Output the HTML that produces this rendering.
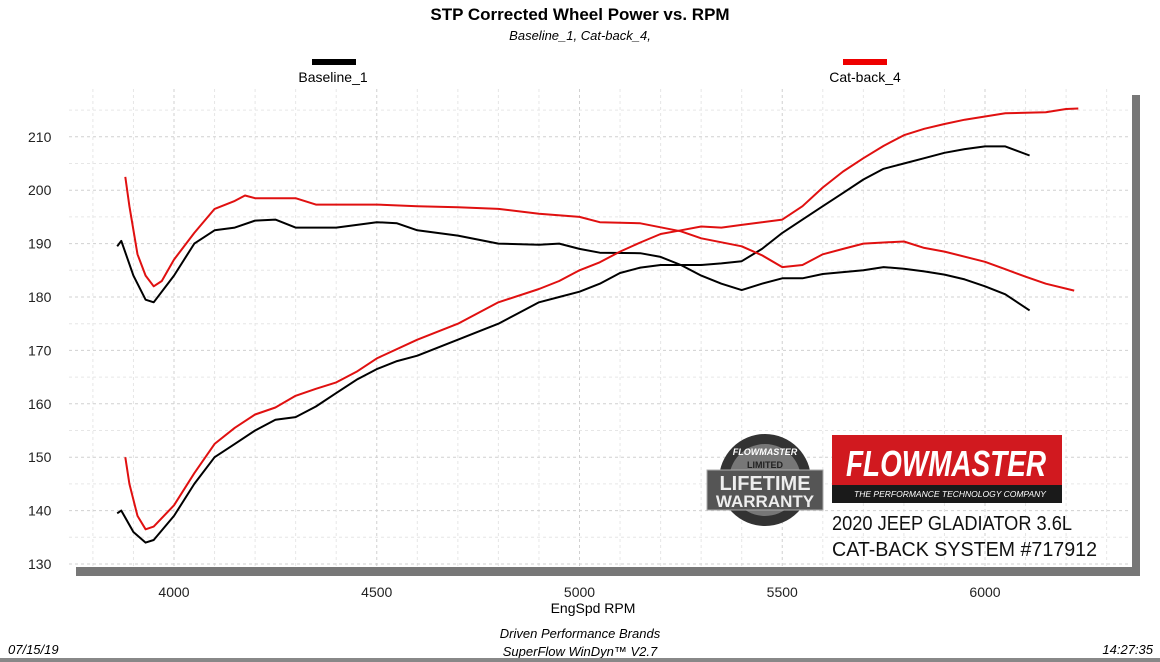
<!DOCTYPE html>
<html><head><meta charset="utf-8"><style>
body{margin:0;width:1160px;height:662px;background:#fff;overflow:hidden;font-family:"Liberation Sans",sans-serif}
svg{position:absolute;left:0;top:0}
</style></head><body>
<svg width="1160" height="662" viewBox="0 0 1160 662" id="s">
<text x="580" y="20" text-anchor="middle" font-size="17" font-weight="bold">STP Corrected Wheel Power vs. RPM</text>
<text x="580" y="40" text-anchor="middle" font-size="13" font-style="italic">Baseline_1, Cat-back_4,</text>
<rect x="312" y="59" width="44" height="6" fill="#000"/>
<text x="333" y="82" text-anchor="middle" font-size="14">Baseline_1</text>
<rect x="843" y="59" width="44" height="6" fill="#e00"/>
<text x="865" y="82" text-anchor="middle" font-size="14">Cat-back_4</text>
<rect x="76" y="95" width="1064" height="481" fill="#777"/>
<rect x="68" y="88" width="1064" height="479" fill="#fff"/>
<g id="grid" stroke="#d6d6d6" stroke-dasharray="3,3" stroke-width="1"></g>
<g font-size="14" fill="#222" id="lab"></g>
<text x="593" y="613" text-anchor="middle" font-size="14">EngSpd  RPM</text>
<text x="580" y="638" text-anchor="middle" font-size="13" font-style="italic">Driven Performance Brands</text>
<text x="580" y="656" text-anchor="middle" font-size="13" font-style="italic">SuperFlow WinDyn™ V2.7</text>
<text x="8" y="654" font-size="13" font-style="italic">07/15/19</text>
<text x="1153" y="654" text-anchor="end" font-size="13" font-style="italic">14:27:35</text>
<rect x="0" y="658" width="1160" height="4" fill="#888"/>
<g id="curves" fill="none" stroke-width="2" stroke-linejoin="round"></g>
<circle cx="765" cy="480" r="46" fill="#333"/>
<circle cx="765" cy="480" r="36" fill="#777"/>
<text x="765" y="455" text-anchor="middle" font-size="9" font-weight="bold" fill="#fff" font-style="italic">FLOWMASTER</text>
<text x="765" y="468" text-anchor="middle" font-size="9" font-weight="bold" fill="#222">LIMITED</text>
<rect x="707" y="470" width="116" height="40" fill="#555" stroke="#aaa"/>
<text x="765" y="490" text-anchor="middle" font-size="20" font-weight="bold" fill="#eee">LIFETIME</text>
<text x="765" y="507" text-anchor="middle" font-size="17" font-weight="bold" fill="#eee">WARRANTY</text>
<rect x="832" y="435" width="230" height="68" fill="#d1191f"/>
<rect x="832" y="485" width="230" height="18" fill="#1a1a1a"/>
<text x="946" y="476" text-anchor="middle" font-size="36" font-weight="bold" font-style="italic" fill="#fff" textLength="200" lengthAdjust="spacingAndGlyphs">FLOWMASTER</text>
<text x="950" y="497" text-anchor="middle" font-size="8.5" font-style="italic" fill="#fff">THE PERFORMANCE TECHNOLOGY COMPANY</text>
<text x="832" y="530" font-size="20" fill="#111" textLength="240" lengthAdjust="spacingAndGlyphs">2020 JEEP GLADIATOR 3.6L</text>
<text x="832" y="556" font-size="20" fill="#111" textLength="265" lengthAdjust="spacingAndGlyphs">CAT-BACK SYSTEM #717912</text>
</svg>
<script>
const X=r=>174+(r-4000)*0.4055, Y=v=>564-(v-130)*5.34, ns="http://www.w3.org/2000/svg";
const g=document.getElementById('grid'), lab=document.getElementById('lab');
function el(p,t,a,txt){const e=document.createElementNS(ns,t);for(const k in a)e.setAttribute(k,a[k]);if(txt)e.textContent=txt;p.appendChild(e);return e;}
for(let r=3800;r<=6600;r+=100){const x=X(r);if(x>70&&x<1130)el(g,'line',{x1:x,y1:89,x2:x,y2:566,stroke:r%500==0?'#d0d0d0':'#e6e6e6'});}
for(let v=130;v<=218;v+=5){const y=Y(v);if(y>90)el(g,'line',{x1:69,y1:y,x2:1131,y2:y,stroke:v%10==0?'#d0d0d0':'#e6e6e6'});}
for(let v=130;v<=210;v+=10)el(lab,'text',{x:28,y:Y(v)+5},String(v));
for(let r=4000;r<=6000;r+=500)el(lab,'text',{x:X(r),y:597,'text-anchor':'middle'},String(r));
const curves=document.getElementById('curves');
function draw(d,c){el(curves,'polyline',{points:d.map(p=>X(p[0]).toFixed(1)+','+Y(p[1]).toFixed(1)).join(' '),stroke:c});}
draw([[3860,139.5],[3870,140],[3900,136],[3930,134],[3950,134.5],[4000,139],[4050,145],[4100,150],[4150,152.5],[4200,155],[4250,157],[4300,157.5],[4350,159.5],[4400,162],[4450,164.5],[4500,166.5],[4550,168],[4600,169],[4650,170.5],[4700,172],[4750,173.5],[4800,175],[4850,177],[4900,179],[4950,180],[5000,181],[5050,182.5],[5100,184.5],[5150,185.5],[5200,186],[5300,186],[5350,186.3],[5400,186.7],[5450,189],[5500,192],[5550,194.5],[5600,197],[5650,199.5],[5700,202],[5750,204],[5800,205],[5850,206],[5900,207],[5950,207.7],[6000,208.2],[6050,208.2],[6110,206.5]],'#000');
draw([[3860,189.5],[3870,190.5],[3900,184],[3930,179.5],[3950,179],[4000,184],[4050,190],[4100,192.5],[4150,193],[4200,194.3],[4250,194.5],[4300,193],[4400,193],[4500,194],[4550,193.8],[4600,192.5],[4700,191.5],[4800,190],[4900,189.8],[4950,190],[5000,189],[5050,188.3],[5150,188.2],[5200,187.5],[5250,186],[5300,184],[5350,182.5],[5400,181.3],[5450,182.5],[5500,183.5],[5550,183.5],[5600,184.3],[5700,185],[5750,185.6],[5800,185.3],[5850,184.8],[5900,184.2],[5950,183.3],[6000,182],[6050,180.5],[6110,177.5]],'#000');
draw([[3880,202.5],[3890,197],[3910,188],[3930,184],[3950,182],[3970,183],[4000,187],[4050,192],[4100,196.5],[4150,198],[4175,199],[4200,198.5],[4300,198.5],[4350,197.3],[4500,197.3],[4600,197],[4700,196.8],[4800,196.5],[4900,195.6],[5000,195],[5050,194],[5150,193.8],[5250,192.3],[5300,191],[5400,189.5],[5450,187.8],[5500,185.6],[5550,186],[5600,188],[5650,189],[5700,190],[5750,190.2],[5800,190.4],[5850,189.2],[5900,188.5],[6000,186.6],[6050,185.2],[6100,183.8],[6150,182.5],[6220,181.2]],'#e01010');
draw([[3880,150],[3890,145],[3910,139],[3930,136.5],[3950,137],[4000,141],[4050,147],[4100,152.5],[4150,155.5],[4200,158],[4250,159.3],[4300,161.5],[4350,162.8],[4400,164],[4450,166],[4500,168.5],[4600,172],[4700,175],[4800,179],[4900,181.5],[4950,183],[5000,185],[5050,186.5],[5100,188.5],[5150,190.2],[5200,191.8],[5250,192.5],[5300,193.2],[5350,193],[5400,193.5],[5450,194],[5500,194.5],[5550,197],[5600,200.5],[5650,203.5],[5700,206],[5750,208.3],[5800,210.3],[5850,211.5],[5900,212.4],[5950,213.2],[6000,213.8],[6050,214.4],[6100,214.5],[6150,214.6],[6200,215.2],[6230,215.3]],'#e01010');
</script>
</body></html>
